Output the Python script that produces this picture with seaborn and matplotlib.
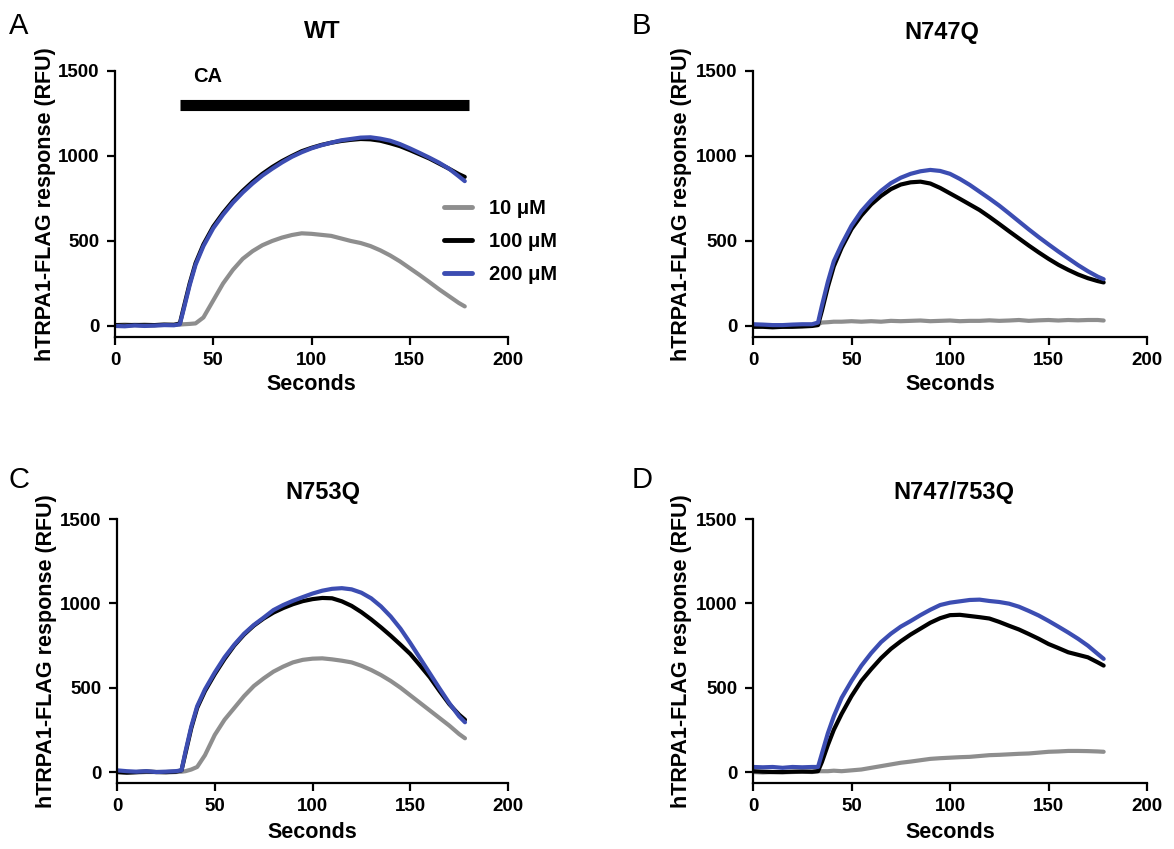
import numpy as np
import pandas as pd
import matplotlib
matplotlib.use("Agg")
import matplotlib.pyplot as plt
import seaborn as sns

# --- DATA ---
t = [0, 5, 10, 15, 20, 25, 30, 33, 35, 38, 41, 45, 50, 55, 60, 65, 70, 75, 80, 85,
     90, 95, 100, 105, 110, 115, 120, 125, 130, 135, 140, 145, 150, 155, 160, 165,
     170, 175, 178]

concs = ["10 \u03bcM", "100 \u03bcM", "200 \u03bcM"]
panels = ["WT", "N747Q", "N753Q", "N747/753Q"]
panel_letters = ["A", "B", "C", "D"]

wt_10 = [5, 8, 5, 8, 5, 6, 8, 8, 10, 12, 15, 50, 150, 250, 330, 395, 440, 475, 500, 520,
         535, 545, 542, 536, 530, 515, 500, 488, 470, 445, 415, 380, 340, 300, 258, 215,
         175, 135, 115]
wt_100 = [5, 3, 6, 4, 5, 8, 6, 15, 110, 250, 370, 480, 585, 665, 735, 795, 848, 895, 935, 970,
          1000, 1028, 1048, 1065, 1078, 1088, 1095, 1100, 1098, 1090, 1075, 1058, 1035, 1010,
          985, 955, 925, 893, 877]
wt_200 = [0, -2, 3, 0, 2, 5, 4, 10, 100, 240, 360, 470, 575, 655, 725, 785, 838, 885, 925, 962,
          995, 1022, 1045, 1063, 1078, 1092, 1100, 1108, 1110, 1102, 1090, 1070, 1045, 1018,
          990, 960, 925, 880, 852]

n747_10 = [5, 0, -5, -5, 0, 0, 5, 10, 20, 22, 25, 25, 28, 25, 28, 25, 30, 28, 30, 32,
           28, 30, 32, 28, 30, 30, 33, 30, 32, 35, 30, 33, 35, 32, 35, 33, 35, 35, 32]
n747_100 = [-5, -5, -8, -5, -5, -3, 0, 5, 90, 230, 350, 460, 570, 650, 715, 765, 805, 832, 845,
            849, 838, 812, 780, 748, 715, 682, 642, 600, 557, 515, 473, 433, 395, 360, 330,
            303, 281, 264, 256]
n747_200 = [10, 8, 5, 5, 8, 10, 10, 20, 120, 260, 380, 480, 590, 675, 740, 795, 840, 872, 895,
            910, 918, 912, 895, 865, 830, 790, 750, 708, 662, 615, 568, 523, 480, 438, 398,
            358, 322, 290, 275]

n753_10 = [0, -5, -3, 0, 0, -3, 0, 2, 5, 15, 30, 100, 220, 310, 380, 450, 510, 555, 595, 625,
           650, 665, 672, 674, 668, 660, 650, 630, 605, 575, 540, 500, 455, 410, 365, 320,
           275, 225, 200]
n753_100 = [0, -3, 0, 3, 0, 0, 2, 10, 110, 260, 380, 480, 580, 670, 750, 815, 868, 910, 945,
            972, 995, 1013, 1025, 1032, 1030, 1012, 985, 948, 905, 858, 808, 755, 700, 632,
            562, 480, 402, 340, 310]
n753_200 = [10, 5, 2, 5, 0, 2, 5, 10, 120, 270, 390, 490, 590, 680, 755, 820, 872, 915, 960,
            990, 1015, 1037, 1058, 1075, 1086, 1090, 1083, 1063, 1030, 982, 922, 850, 765,
            675, 585, 495, 408, 330, 295]

dbl_10 = [0, -3, 0, -2, 0, 2, 0, 5, 5, 5, 8, 5, 10, 15, 25, 35, 45, 55, 62, 70, 78, 82, 85,
          88, 90, 95, 100, 102, 105, 108, 110, 115, 120, 122, 125, 125, 124, 122, 120]
dbl_100 = [5, 2, 0, 0, 2, 3, 2, 5, 60, 160, 250, 345, 450, 540, 610, 675, 730, 775, 815, 850,
           885, 912, 930, 932, 925, 918, 910, 890, 867, 845, 818, 790, 759, 735, 710, 695,
           680, 650, 631]
dbl_200 = [30, 28, 30, 25, 30, 28, 30, 30, 110, 230, 330, 440, 540, 630, 705, 770, 820, 862,
           895, 930, 962, 990, 1004, 1012, 1020, 1022, 1014, 1008, 998, 980, 955, 928, 896,
           862, 827, 790, 749, 700, 671]

# CA application bar (WT panel)
ca_start, ca_end, ca_level = 33, 180, 1300

series = {
    "WT": [wt_10, wt_100, wt_200],
    "N747Q": [n747_10, n747_100, n747_200],
    "N753Q": [n753_10, n753_100, n753_200],
    "N747/753Q": [dbl_10, dbl_100, dbl_200],
}

rows = []
for p in panels:
    for c, vals in zip(concs, series[p]):
        for tt, v in zip(t, vals):
            rows.append({"panel": p, "conc": c, "Seconds": tt, "RFU": v})
df = pd.DataFrame(rows)

# --- STYLE ---
sns.set_theme(style="ticks")
plt.rcParams["font.family"] = ["Liberation Sans", "DejaVu Sans"]
plt.rcParams["text.color"] = "black"
plt.rcParams["axes.labelcolor"] = "black"
palette = {concs[0]: "#8e8e8e", concs[1]: "#000000", concs[2]: "#3c4db2"}

W, H = 1174, 849
fig = plt.figure(figsize=(W / 100, H / 100), dpi=100)

# axes boxes in pixels: left, right, top, bottom
boxes = [(115, 508, 71, 337), (753, 1147, 71, 337),
         (117, 508, 519, 783), (753, 1147, 519, 783)]
ylab_x = [45, 682, 47, 682]
xlab_off = [48, 48, 50, 50]
title_pos = [(322, 32), (942, 32), (323, 492), (954, 492)]
letter_pos = [(9, 12), (632, 12), (9, 466), (632, 466)]

for i, p in enumerate(panels):
    l, r, tp, b = boxes[i]
    ax = fig.add_axes([l / W, 1 - b / H, (r - l) / W, (b - tp) / H])
    sns.lineplot(data=df[df["panel"] == p], x="Seconds", y="RFU", hue="conc",
                 hue_order=concs, palette=palette, linewidth=3.0, ax=ax,
                 legend=(i == 0))
    ax.set_xlim(0, 200)
    ax.set_ylim(-65, 1500)
    ax.set_xticks([0, 50, 100, 150, 200])
    ax.set_yticks([0, 500, 1000, 1500])
    sns.despine(ax=ax)
    for s in ["left", "bottom"]:
        ax.spines[s].set_linewidth(1.6)
        ax.spines[s].set_color("black")
    ax.tick_params(width=1.6, length=6, labelsize=13.5, pad=5, colors="black")
    for lab in ax.get_xticklabels() + ax.get_yticklabels():
        lab.set_fontweight("bold")
    ax.set_xlabel("Seconds", fontsize=15.5, fontweight="bold", va="center")
    ax.xaxis.set_label_coords(0.5, -xlab_off[i] / (b - tp))
    ax.set_ylabel("hTRPA1-FLAG response (RFU)", fontsize=15.5, fontweight="bold",
                  va="center")
    ax.yaxis.set_label_coords((ylab_x[i] - l) / (r - l), 0.5)

    fig.text(title_pos[i][0] / W, 1 - title_pos[i][1] / H, p, ha="center",
             va="center", fontsize=17, fontweight="bold")
    fig.text(letter_pos[i][0] / W, 1 - letter_pos[i][1] / H, panel_letters[i],
             ha="left", va="top", fontsize=21)

    if i == 0:
        ax.plot([ca_start, ca_end], [ca_level, ca_level], color="black",
                linewidth=8, solid_capstyle="butt")
        ax.text(40, 1465, "CA", ha="left", va="center", fontsize=14.5,
                fontweight="bold")
        handles, labels = ax.get_legend_handles_labels()
        for h in handles:
            h.set_linewidth(3.5)
        ax.legend(handles, labels, loc="upper left",
                  bbox_to_anchor=(444 / W, 1 - 199 / H),
                  bbox_transform=fig.transFigure, frameon=False,
                  handlelength=1.4, handletextpad=0.85, labelspacing=0.7,
                  borderpad=0, borderaxespad=0,
                  prop={"size": 14.5, "weight": "bold"})

fig.savefig("out.png", dpi=100, facecolor="white")
